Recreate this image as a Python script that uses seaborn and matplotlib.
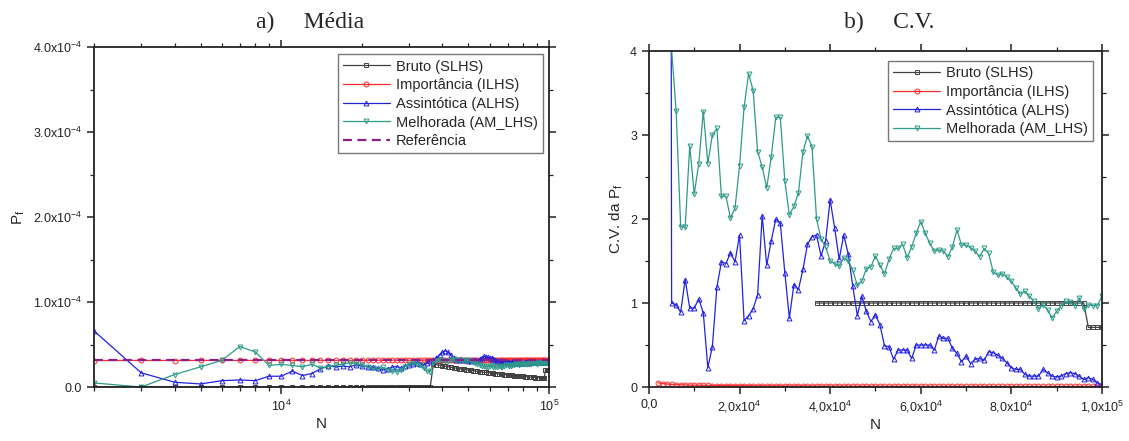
import numpy as np
import matplotlib
matplotlib.use("Agg")
import matplotlib.pyplot as plt
import seaborn as sns

sns.set_style("ticks")
plt.rcParams['font.family'] = ['Liberation Sans', 'DejaVu Sans']
plt.rcParams['mathtext.default'] = 'regular'

# Dados (Pf em unidades de 1e-5)
n_media = np.arange(2000, 100001, 1000)

media_bruto = [0.0] * 35 + [
    2.70, 2.63, 2.56, 2.50, 2.44, 2.38, 2.33, 2.27, 2.22, 2.17,
    2.13, 2.08, 2.04, 2.00, 1.96, 1.92, 1.89, 1.85, 1.82, 1.79,
    1.75, 1.72, 1.69, 1.67, 1.64, 1.61, 1.59, 1.56, 1.54, 1.52,
    1.49, 1.47, 1.45, 1.43, 1.41, 1.39, 1.37, 1.35, 1.33, 1.32,
    1.30, 1.28, 1.27, 1.25, 1.23, 1.22, 1.20, 1.19, 1.18, 1.16,
    1.15, 1.14, 1.12, 1.11, 1.10, 1.09, 1.08, 1.06, 1.05, 1.04,
    2.06, 2.04, 2.02, 2.00]

media_importancia = [
    3.12, 3.13, 3.12, 3.13, 3.14, 3.13, 3.13, 3.14, 3.13, 3.14,
    3.13, 3.14, 3.14, 3.13, 3.14, 3.15, 3.14, 3.14, 3.15, 3.14,
    3.15, 3.15, 3.14, 3.15, 3.16, 3.15, 3.15, 3.16, 3.15, 3.16,
    3.16, 3.15, 3.16, 3.17, 3.16, 3.16, 3.17, 3.16, 3.17, 3.17,
    3.16, 3.17, 3.18, 3.17, 3.17, 3.18, 3.17, 3.18, 3.18, 3.17,
    3.18, 3.19, 3.18, 3.18, 3.19, 3.18, 3.19, 3.19, 3.18, 3.19,
    3.20, 3.19, 3.19, 3.20, 3.19, 3.20, 3.20, 3.19, 3.20, 3.21,
    3.20, 3.20, 3.21, 3.20, 3.21, 3.21, 3.20, 3.21, 3.22, 3.21,
    3.21, 3.22, 3.21, 3.22, 3.22, 3.21, 3.22, 3.22, 3.21, 3.22,
    3.22, 3.21, 3.22, 3.22, 3.21, 3.22, 3.22, 3.22, 3.22]

media_assintotica = [
    6.60, 1.67, 0.56, 0.36, 0.75, 0.83, 0.75, 1.27, 1.27, 1.87,
    1.35, 1.59, 2.14, 2.46, 2.38, 2.46, 2.38, 2.62, 2.46, 2.40,
    2.30, 2.18, 2.02, 2.15, 2.35, 2.40, 2.25, 2.45, 2.55, 2.70,
    2.85, 2.75, 2.60, 2.80, 3.05, 3.20, 3.45, 3.80, 4.10, 4.25,
    4.10, 3.75, 3.40, 3.20, 3.15, 3.25, 3.15, 3.20, 3.10, 3.05,
    3.15, 3.20, 3.10, 3.25, 3.45, 3.60, 3.55, 3.50, 3.40, 3.45,
    3.30, 3.20, 3.10, 3.05, 3.00, 2.95, 3.05, 3.00, 2.95, 2.90,
    2.85, 2.90, 2.95, 2.85, 2.80, 2.85, 2.90, 2.80, 2.85, 2.90,
    2.95, 2.90, 2.85, 2.90, 2.95, 3.00, 2.95, 2.90, 2.95, 3.00,
    2.95, 2.90, 2.95, 3.00, 2.95, 2.90, 2.95, 3.00, 3.00]

media_melhorada = [
    0.48, 0.00, 1.47, 2.38, 3.13, 4.76, 4.13, 2.54, 2.66, 2.54,
    2.38, 2.66, 2.26, 2.40, 2.55, 2.70, 2.85, 2.75, 2.60, 2.35,
    2.20, 2.10, 2.30, 2.05, 1.85, 1.75, 2.00, 2.40, 2.70, 2.85,
    2.75, 2.60, 2.20, 1.90, 1.80, 3.00, 3.10, 3.15, 3.20, 3.05,
    3.10, 3.20, 3.25, 3.15, 3.20, 3.10, 3.05, 3.10, 3.15, 3.05,
    2.95, 2.85, 2.75, 2.60, 2.50, 2.45, 2.40, 2.35, 2.45, 2.55,
    2.40, 2.30, 2.35, 2.45, 2.40, 2.35, 2.50, 2.60, 2.55, 2.50,
    2.45, 2.55, 2.60, 2.65, 2.70, 2.60, 2.65, 2.70, 2.75, 2.70,
    2.65, 2.70, 2.75, 2.80, 2.75, 2.80, 2.85, 2.80, 2.75, 2.80,
    2.85, 2.80, 2.85, 2.90, 2.85, 2.80, 2.85, 2.90, 2.90]

referencia = 3.13

# Coeficiente de variação
n_cv_bruto = np.arange(37000, 100001, 1000)
cv_bruto = [1.0] * 60 + [0.71] * 4

n_cv_importancia = np.arange(2000, 100001, 1000)
cv_importancia = [
    0.050, 0.041, 0.035, 0.031, 0.028, 0.026, 0.024, 0.023, 0.022, 0.021,
    0.020, 0.019, 0.018, 0.018, 0.017, 0.017, 0.016, 0.016, 0.015, 0.015,
    0.015, 0.014, 0.014, 0.014, 0.013, 0.013, 0.013, 0.013, 0.012, 0.012,
    0.012, 0.012, 0.012, 0.011, 0.011, 0.011, 0.011, 0.011, 0.011, 0.010,
    0.010, 0.010, 0.010, 0.010, 0.010, 0.010, 0.010, 0.009, 0.009, 0.009,
    0.009, 0.009, 0.009, 0.009, 0.009, 0.009, 0.009, 0.009, 0.008, 0.008,
    0.008, 0.008, 0.008, 0.008, 0.008, 0.008, 0.008, 0.008, 0.008, 0.008,
    0.008, 0.008, 0.008, 0.007, 0.007, 0.007, 0.007, 0.007, 0.007, 0.007,
    0.007, 0.007, 0.007, 0.007, 0.007, 0.007, 0.007, 0.007, 0.007, 0.007,
    0.007, 0.007, 0.007, 0.007, 0.007, 0.007, 0.007, 0.007, 0.007]

n_cv_assintotica = np.arange(4000, 100001, 1000)
cv_assintotica = [
    40.0, 1.00, 0.98, 0.89, 1.28, 0.94, 0.94, 1.05, 0.88, 0.23,
    0.48, 1.19, 1.49, 1.47, 1.60, 1.49, 1.81, 0.79, 0.85, 0.93,
    1.10, 2.04, 1.45, 1.74, 2.00, 1.95, 1.36, 0.82, 1.22, 1.16,
    1.40, 1.70, 1.79, 1.81, 1.56, 1.74, 2.23, 1.89, 1.52, 1.81,
    1.58, 1.20, 0.85, 1.08, 0.90, 0.78, 0.86, 0.74, 0.49, 0.48,
    0.33, 0.44, 0.44, 0.44, 0.34, 0.50, 0.50, 0.50, 0.50, 0.44,
    0.61, 0.58, 0.58, 0.46, 0.40, 0.30, 0.37, 0.28, 0.33, 0.34,
    0.32, 0.42, 0.41, 0.38, 0.34, 0.29, 0.23, 0.21, 0.21, 0.15,
    0.13, 0.13, 0.13, 0.21, 0.17, 0.13, 0.12, 0.13, 0.16, 0.17,
    0.16, 0.13, 0.09, 0.11, 0.09, 0.05, 0.03]

n_cv_melhorada = np.arange(5000, 100001, 1000)
cv_melhorada = [
    4.02, 3.29, 1.91, 1.90, 2.87, 2.30, 2.66, 3.28, 2.66, 3.00,
    3.08, 2.27, 2.27, 2.01, 2.13, 2.63, 3.33, 3.73, 3.53, 2.80,
    2.62, 2.37, 2.74, 3.21, 3.21, 2.45, 2.05, 2.15, 2.31, 2.80,
    2.99, 2.86, 2.00, 1.76, 1.67, 1.50, 1.47, 1.44, 1.54, 1.50,
    1.39, 1.21, 1.26, 1.41, 1.43, 1.56, 1.45, 1.35, 1.52, 1.65,
    1.65, 1.70, 1.54, 1.67, 1.83, 1.97, 1.83, 1.71, 1.62, 1.63,
    1.62, 1.55, 1.67, 1.87, 1.69, 1.69, 1.66, 1.62, 1.55, 1.65,
    1.59, 1.37, 1.33, 1.35, 1.31, 1.26, 1.18, 1.11, 1.14, 1.08,
    1.02, 0.93, 0.98, 0.92, 0.82, 0.90, 0.97, 1.02, 1.01, 0.97,
    1.06, 0.93, 0.98, 0.97, 0.97, 1.08]

rotulos = ['Bruto (SLHS)', 'Importância (ILHS)', 'Assintótica (ALHS)',
           'Melhorada (AM_LHS)', 'Referência']
cores = ['#404040', '#ff2a2a', '#2222e0', '#2f9a8a', '#8a1f8a']
marcadores = ['s', 'o', '^', 'v']


def serie(ax, x, y, i):
    sns.lineplot(x=x, y=y, ax=ax, color=cores[i], marker=marcadores[i],
                 markersize=3.5, markerfacecolor='none', markeredgecolor=cores[i],
                 markeredgewidth=0.7, linewidth=0.9, label=rotulos[i],
                 sort=False, estimator=None)


def estilo_eixos(ax):
    for s in ax.spines.values():
        s.set_linewidth(1.3)
        s.set_color('#222222')
    ax.tick_params(which='both', direction='out', top=True, right=True,
                   labelsize=9, colors='#222222')
    ax.tick_params(which='major', length=5, width=1.1)
    ax.tick_params(which='minor', length=3, width=0.9)


fig = plt.figure(figsize=(11.29, 4.41), dpi=100)

# a) Média
ax1 = fig.add_axes([0.0833, 0.1224, 0.403, 0.771])
pf = lambda v: np.array(v) * 1e-5
serie(ax1, n_media, pf(media_bruto), 0)
serie(ax1, n_media, pf(media_importancia), 1)
serie(ax1, n_media, pf(media_assintotica), 2)
serie(ax1, n_media, pf(media_melhorada), 3)
sns.lineplot(x=[2000, 100000], y=[referencia * 1e-5] * 2, ax=ax1, color=cores[4],
             linestyle=(0, (4, 2.5)), linewidth=1.6, label=rotulos[4])
ax1.set_xscale('log')
ax1.set_xlim(2000, 100000)
ax1.set_ylim(0, 4e-4)
ax1.set_xticks([1e4, 1e5], ['10$^4$', '10$^5$'])
ax1.set_xticks([k * 10 ** e for e in (3, 4) for k in range(2, 10)], minor=True)
ax1.set_yticks([0, 1e-4, 2e-4, 3e-4, 4e-4],
               ['0.0', '1.0x10$^{-4}$', '2.0x10$^{-4}$', '3.0x10$^{-4}$', '4.0x10$^{-4}$'])
ax1.set_yticks([0.5e-4, 1.5e-4, 2.5e-4, 3.5e-4], minor=True)
ax1.set_xlabel('N', fontsize=11, labelpad=2)
ax1.set_ylabel('P$_f$', fontsize=11)
estilo_eixos(ax1)
ax1.legend(loc='upper left', bbox_to_anchor=(0.536, 0.978), borderaxespad=0,
           fontsize=10.5, frameon=True, fancybox=False, edgecolor='#555555',
           handlelength=3.2, labelspacing=0.32, borderpad=0.35, handletextpad=0.4)
fig.text(0.275, 0.95, 'a)     Média', ha='center', va='center',
         fontsize=17, family='Liberation Serif')

# b) C.V.
ax2 = fig.add_axes([0.5748, 0.1224, 0.4012, 0.7619])
serie(ax2, n_cv_bruto, cv_bruto, 0)
serie(ax2, n_cv_importancia, cv_importancia, 1)
serie(ax2, n_cv_assintotica, cv_assintotica, 2)
serie(ax2, n_cv_melhorada, cv_melhorada, 3)
ax2.set_xlim(0, 100000)
ax2.set_ylim(0, 4)
ax2.set_xticks([0, 2e4, 4e4, 6e4, 8e4, 1e5],
               ['0,0', '2,0x10$^4$', '4,0x10$^4$', '6,0x10$^4$', '8,0x10$^4$', '1,0x10$^5$'])
ax2.set_xticks([1e4, 3e4, 5e4, 7e4, 9e4], minor=True)
ax2.set_yticks([0, 1, 2, 3, 4], ['0', '1', '2', '3', '4'])
ax2.set_yticks([0.5, 1.5, 2.5, 3.5], minor=True)
ax2.set_xlabel('N', fontsize=11, labelpad=2)
ax2.set_ylabel('C.V. da P$_f$', fontsize=11)
estilo_eixos(ax2)
ax2.legend(loc='upper left', bbox_to_anchor=(0.528, 0.970), borderaxespad=0,
           fontsize=10.5, frameon=True, fancybox=False, edgecolor='#555555',
           handlelength=3.2, labelspacing=0.32, borderpad=0.35, handletextpad=0.4)
fig.text(0.788, 0.95, 'b)     C.V.', ha='center', va='center',
         fontsize=17, family='Liberation Serif')

fig.savefig('out.png', dpi=100)
